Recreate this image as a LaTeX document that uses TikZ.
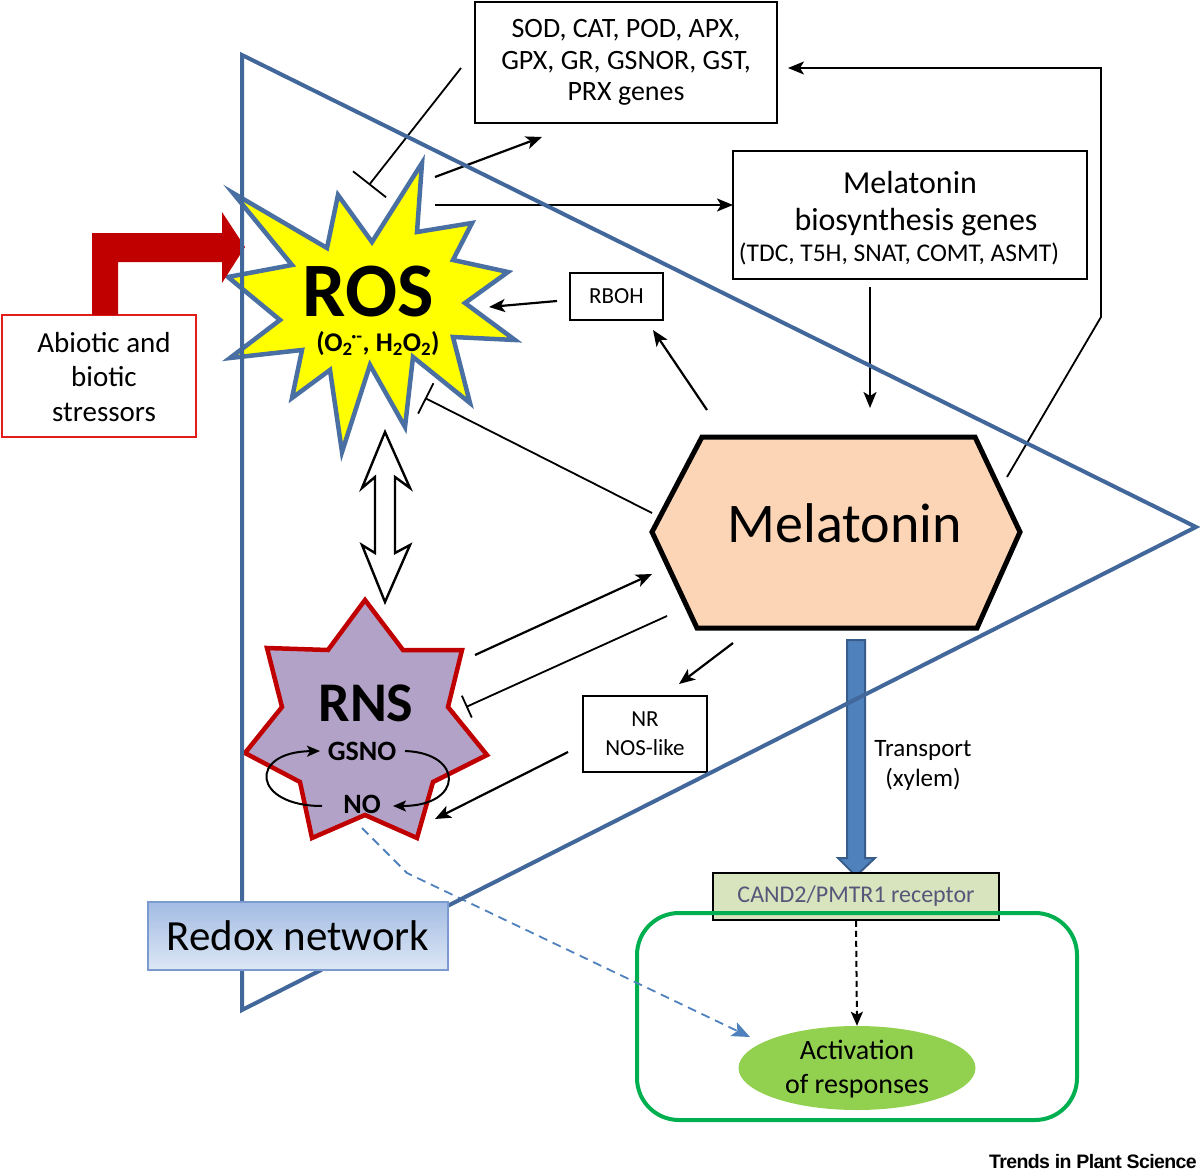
\documentclass[tikz,border=0pt]{standalone}
\usepackage{fontspec}
\setmainfont{Carlito}
\newfontfamily\trendsfont{Liberation Sans}
\usetikzlibrary{arrows.meta,shapes.geometric,calc}
\definecolor{triblue}{HTML}{41679B}
\definecolor{starblue}{HTML}{4A6FA2}
\definecolor{rosyellow}{HTML}{FFFF00}
\definecolor{darkred}{HTML}{C00000}
\definecolor{boxred}{HTML}{E31C1C}
\definecolor{lavender}{HTML}{B3A2C7}
\definecolor{peach}{HTML}{FBD5B5}
\definecolor{recfill}{HTML}{D7E4BD}
\definecolor{rectext}{HTML}{56567A}
\definecolor{cellgreen}{HTML}{00B050}
\definecolor{respgreen}{HTML}{92D050}
\definecolor{trfill}{HTML}{4F81BD}
\definecolor{trdraw}{HTML}{385D8A}
\definecolor{redoxtop}{HTML}{A3BCE3}
\definecolor{redoxbot}{HTML}{DDE7F5}
\definecolor{redoxdraw}{HTML}{7B9BD0}
\tikzset{
  arr/.style={line width=2.2pt,-{Stealth[length=16pt,width=13pt,inset=4pt]}},
  inhline/.style={line width=1.8pt},
  plainbox/.style={draw=black,line width=1.6pt,fill=white,inner sep=0pt,align=center},
  lbl/.style={inner sep=0pt,align=center}
}
\begin{document}
\begin{tikzpicture}[x=1pt,y=-1pt]
\useasboundingbox (0,0) rectangle (1200,1172);
\fill[white] (0,0) rectangle (1200,1172);

% ---------- ROS star ----------
\draw[fill=rosyellow,draw=starblue,line width=4.5pt,line join=miter]
 (233,193) -- (327,248) -- (338,195) -- (372,242) -- (422,163) -- (417,232)
 -- (472,223) -- (453,260) -- (508,272) -- (465,303) -- (515,340) -- (453,337)
 -- (470,403) -- (413,357) -- (405,427) -- (370,365) -- (342,452) -- (330,370)
 -- (292,398) -- (302,350) -- (230,358) -- (280,320) -- (228,277) -- (292,265) -- cycle;
\node[lbl,font=\fontsize{77}{77}\selectfont\bfseries] (ros) at (368,292) {ROS};
\node[lbl,font=\fontsize{27}{27}\selectfont\bfseries] (rossub) at (378,344)
 {(O\textsubscript{2}\kern-0.05em\textsuperscript{·-}, H\textsubscript{2}O\textsubscript{2})};

% ---------- RNS star ----------
\draw[fill=lavender,draw=darkred,line width=4.5pt,line join=miter]
 (365,600) -- (403,650) -- (462,650) -- (448,707) -- (487,755) -- (433,782)
 -- (417,838) -- (365,815) -- (312,838) -- (300,782) -- (245,753) -- (282,707)
 -- (267,648) -- (328,650) -- cycle;
\node[lbl,font=\fontsize{56}{56}\selectfont\bfseries] (rns) at (366,703) {RNS};
\node[lbl,font=\fontsize{28}{28}\selectfont\bfseries] (gsno) at (362,751) {GSNO};
\node[lbl,font=\fontsize{28}{28}\selectfont\bfseries] (no) at (362,804) {NO};
\draw[line width=2pt,-{Stealth[length=13pt,width=11pt,inset=3pt]}]
 (322,806) .. controls (252,806) and (248,752) .. (320,751);
\draw[line width=2pt,-{Stealth[length=13pt,width=11pt,inset=3pt]}]
 (405,751) .. controls (464,753) and (464,806) .. (393,806);

% ---------- hollow double arrow ----------
\draw[fill=white,draw=black,line width=2.4pt,line join=miter] (385,432) -- (410,488) -- (395,477)
 -- (395,553) -- (410,545) -- (385,602) -- (362,545) -- (375,553) -- (375,477) -- (362,488) -- cycle;

% ---------- Melatonin hexagon ----------
\draw[fill=peach,draw=black,line width=5pt,line join=miter]
 (652,532) -- (702,437) -- (975,437) -- (1020,532) -- (977,628) -- (697,628) -- cycle;
\node[lbl,font=\fontsize{56}{56}\selectfont] (mel) at (845,523) {Melatonin};

% ---------- boxes ----------
\node[plainbox,minimum width=302pt,minimum height=121pt,font=\fontsize{28}{31.5}\selectfont]
 (sod) at (626,62.5) {SOD, CAT, POD, APX,\\GPX, GR, GSNOR, GST,\\PRX genes};
\node[plainbox,minimum width=354pt,minimum height=128pt] (bio) at (910,215) {};
\node[lbl,font=\fontsize{32}{32}\selectfont] (biot1) at (910,183) {Melatonin};
\node[lbl,font=\fontsize{32}{32}\selectfont] (biot2) at (916,222) {biosynthesis genes};
\node[lbl,font=\fontsize{25.5}{25.5}\selectfont] (biot3) at (899,254) {(TDC, T5H, SNAT, COMT, ASMT)};
\node[plainbox,minimum width=93pt,minimum height=47pt,font=\fontsize{23}{23}\selectfont]
 (rboh) at (616.5,296.5) {RBOH};
\node[plainbox,minimum width=124pt,minimum height=76pt,font=\fontsize{23}{29}\selectfont]
 (nr) at (645,734) {NR\\NOS-like};
\node[draw=boxred,line width=1.6pt,fill=white,inner sep=0pt,
 minimum width=194pt,minimum height=122pt] (abio) at (99,376) {};
\node[lbl,font=\fontsize{29}{34.5}\selectfont] (abiotxt) at (104,377) {Abiotic and\\biotic\\stressors};

% ---------- red bent arrow ----------
\fill[darkred] (92,315) -- (92,233) -- (222,233) -- (222,212) -- (245,247) -- (222,283)
 -- (222,262) -- (118,262) -- (118,315) -- cycle;

% ---------- transport arrow ----------
\draw[fill=trfill,draw=trdraw,line width=2pt,line join=miter]
 (847,640) -- (865,640) -- (865,858) -- (875,858) -- (856,876) -- (838,858) -- (847,858) -- cycle;
\node[lbl,font=\fontsize{25}{30}\selectfont] (transp) at (923,765) {Transport\\(xylem)};

% ---------- receptor / cell ----------
\node[draw=black,line width=1.6pt,fill=recfill,inner sep=0pt,minimum width=286pt,minimum height=47pt,
 text=rectext,font=\fontsize{24}{24}\selectfont] (rec) at (856,896.5) {CAND2/PMTR1 receptor};
\draw[draw=cellgreen,line width=4pt,rounded corners=42pt] (637,913) rectangle (1077,1120);
\node[ellipse,fill=respgreen,inner sep=0pt,minimum width=237pt,minimum height=84pt] (resp) at (857,1068) {};
\node[lbl,font=\fontsize{28}{34}\selectfont] (resptxt) at (857,1069) {Activation\\of responses};
\draw[line width=2pt,dash pattern=on 6pt off 4pt,-{Stealth[length=14pt,width=12pt,inset=3pt]}]
 (rec.south) -- (resp.north);

% ---------- connector endpoints ----------
\coordinate (a1s) at (435,177);  \coordinate (a1e) at (542,137);
\coordinate (a2s) at (435,205);  \coordinate (a2e) at (733,205);
\coordinate (i1s) at (461,68);   \coordinate (i1e) at (369,185);
\coordinate (a3s) at (870,287);  \coordinate (a3e) at (870,408);
\coordinate (a4s) at (1007,477); \coordinate (a4m) at (1101,317);
\coordinate (a4t) at (1101,68);  \coordinate (a4e) at (788,68);
\coordinate (a5s) at (557,301);  \coordinate (a5e) at (489,307);
\coordinate (a6s) at (707,410);  \coordinate (a6e) at (653,330);
\coordinate (i2s) at (652,513);  \coordinate (i2e) at (425,398);
\coordinate (a7s) at (475,655);  \coordinate (a7e) at (652,574);
\coordinate (i3s) at (667,616);  \coordinate (i3e) at (466,707);
\coordinate (a8s) at (733,643);  \coordinate (a8e) at (679,684);
\coordinate (a9s) at (568,752);  \coordinate (a9e) at (435,819);
\coordinate (d1s) at (362,828);  \coordinate (d1m) at (407,873);
\coordinate (d1e) at (750,1037);

% ---------- connectors ----------
\draw[arr] (a1s) -- (a1e);
\draw[arr] (a2s) -- (a2e);
\draw[inhline,-{Bar[width=42pt,line width=1.8pt]}] (i1s) -- (i1e);
\draw[arr] (a3s) -- (a3e);
\draw[line width=1.8pt,-{Stealth[length=16pt,width=13pt,inset=4pt]}] (a4s) -- (a4m) -- (a4t) -- (a4e);
\draw[arr] (a5s) -- (a5e);
\draw[arr] (a6s) -- (a6e);
\draw[inhline,-{Bar[width=34pt,line width=1.8pt]}] (i2s) -- (i2e);
\draw[arr] (a7s) -- (a7e);
\draw[inhline,-{Bar[width=24pt,line width=1.8pt]}] (i3s) -- (i3e);
\draw[arr] (a8s) -- (a8e);
\draw[arr] (a9s) -- (a9e);
\draw[draw=trfill,line width=1.8pt,dash pattern=on 9pt off 6pt,
 -{Stealth[length=18pt,width=15pt,inset=4pt,fill=trfill]}] (d1s) -- (d1m) -- (d1e);

% ---------- redox triangle ----------
\draw[triblue,line width=4pt,line join=miter] (242,55) -- (1196,527) -- (242,1010) -- cycle;

% ---------- redox network box ----------
\node[draw=redoxdraw,line width=1.6pt,top color=redoxtop,bottom color=redoxbot,inner sep=0pt,
 minimum width=300pt,minimum height=68pt,font=\fontsize{43}{43}\selectfont] (redox) at (298,936) {Redox network};

% ---------- credit ----------
\node[inner sep=0pt,anchor=base east,font=\trendsfont\fontsize{19.5}{19.5}\selectfont\bfseries\addfontfeatures{LetterSpace=-3}]
 (credit) at (1197,1168) {Trends in Plant Science};
\end{tikzpicture}
\end{document}
